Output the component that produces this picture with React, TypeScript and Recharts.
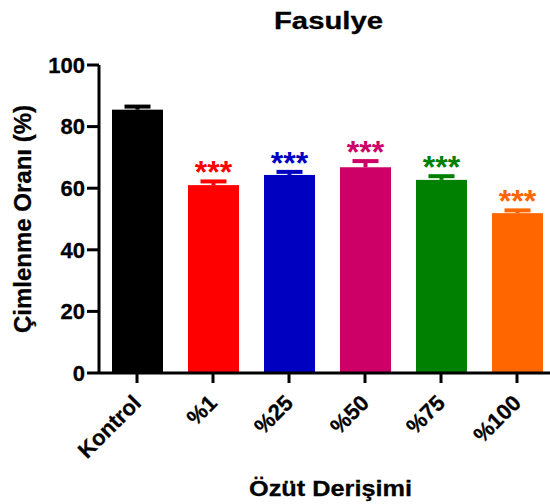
import React from 'react';
import { BarChart, Bar, XAxis, YAxis, Customized } from 'recharts';

const categories = ['Kontrol', '%1', '%25', '%50', '%75', '%100'];
const means = [85.5, 61.0, 64.3, 66.8, 62.7, 51.9];
const sems = [1.0, 1.2, 1.0, 2.0, 1.2, 0.9];
const colors = ['#000000', '#FF0000', '#0000C0', '#CC0066', '#008000', '#FF6600'];
const significance = ['', '***', '***', '***', '***', '***'];
const yTicks = [0, 20, 40, 60, 80, 100];

const data = categories.map((name, i) => ({
  name,
  mean: means[i],
  sem: sems[i],
  color: colors[i],
  sig: significance[i],
}));

const FONT = '"Liberation Sans", Arial, Helvetica, sans-serif';

const BarWithError = (props: any) => {
  const { x, y, width, height, payload } = props;
  const pxPerUnit = height / payload.mean;
  const errY = y - payload.sem * pxPerUnit;
  const cx = x + width / 2;
  const col = payload.color;
  return (
    <g>
      <rect x={x} y={y} width={width} height={height} fill={col} />
      <line x1={cx} x2={cx} y1={y} y2={errY} stroke={col} strokeWidth={4} />
      <line x1={cx - 13} x2={cx + 13} y1={errY} y2={errY} stroke={col} strokeWidth={4} />
      {payload.sig ? (
        <text
          x={cx}
          y={errY + 2}
          textAnchor="middle"
          fill={col}
          fontSize={32}
          fontWeight="bold"
          fontFamily={FONT}
        >
          {payload.sig}
        </text>
      ) : null}
    </g>
  );
};

const XTick = (props: any) => {
  const { x, y, payload } = props;
  return (
    <text
      x={x}
      y={y + 14}
      transform={`rotate(-45 ${x} ${y + 14})`}
      textAnchor="end"
      dominantBaseline="central"
      fontSize={22}
      fontWeight="bold"
      fontFamily={FONT}
      fill="#000"
      stroke="#000"
      strokeWidth={0.3}
    >
      {payload.value}
    </text>
  );
};

const Titles = () => (
  <g fontFamily={FONT} fontWeight="bold" fill="#000" stroke="#000" strokeWidth={0.3}>
    <text transform="translate(328.5 29) scale(1.22 1)" x={0} y={0} textAnchor="middle" fontSize={24}>
      Fasulye
    </text>
    <text transform="translate(330.5 496) scale(1.13 1)" x={0} y={0} textAnchor="middle" fontSize={22.4}>
      Özüt Derişimi
    </text>
    <text x={31} y={219} textAnchor="middle" fontSize={24} transform="rotate(-90 31 219)">
      Çimlenme Oranı (%)
    </text>
  </g>
);

export default function App() {
  return (
    <div style={{ position: 'absolute', left: 0, top: 0, width: 550, height: 504, overflow: 'hidden', background: '#fff' }}>
      <BarChart
        width={560}
        height={504}
        data={data}
        margin={{ top: 65, right: 5, bottom: 0, left: 0 }}
        barSize={51}
      >
        <XAxis
          dataKey="name"
          interval={0}
          height={131}
          tickSize={10}
          tickMargin={2}
          axisLine={{ stroke: '#000', strokeWidth: 3 }}
          tickLine={{ stroke: '#000', strokeWidth: 3 }}
          tick={<XTick />}
        />
        <YAxis
          width={99}
          domain={[0, 100]}
          ticks={yTicks}
          interval={0}
          tickSize={12}
          tickMargin={2}
          axisLine={{ stroke: '#000', strokeWidth: 3 }}
          tickLine={{ stroke: '#000', strokeWidth: 3 }}
          tick={{ fontSize: 22, fontWeight: 'bold', fill: '#000', fontFamily: FONT, stroke: '#000', strokeWidth: 0.3 }}
        />
        <Bar dataKey="mean" isAnimationActive={false} shape={<BarWithError />} />
        <Customized component={<Titles />} />
      </BarChart>
    </div>
  );
}
